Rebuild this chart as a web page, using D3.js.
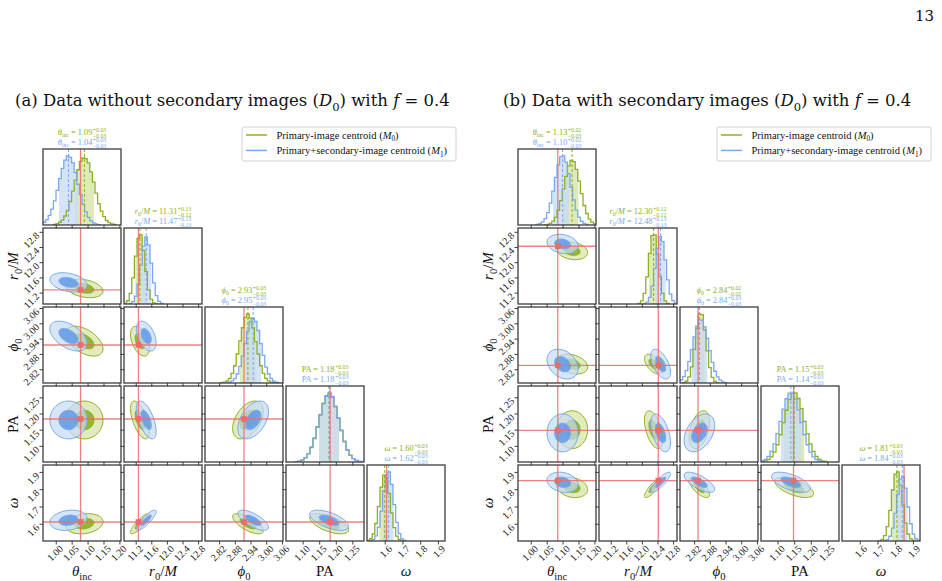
<!DOCTYPE html>
<html>
<head>
<meta charset="utf-8">
<title>Corner plots</title>
<script src="https://cdn.jsdelivr.net/npm/d3@7"></script>
<style>
  body { margin: 0; background: #fff; }
  .frame { fill: none; stroke: #3d3d3d; stroke-width: 1.3; }
</style>
</head>
<body>
<script>

// ---- axes shared by both corner plots ----
var paramDomains = [[0.96, 1.205], [10.9, 12.9], [2.766, 3.064], [1.05, 1.285], [1.5, 1.94]];
var paramTicks = [[1.00, 1.05, 1.10, 1.15, 1.20], [11.2, 11.6, 12.0, 12.4, 12.8],
                  [2.82, 2.88, 2.94, 3.00, 3.06], [1.10, 1.15, 1.20, 1.25], [1.6, 1.7, 1.8, 1.9]];
var tickFormats = [".2f", ".1f", ".2f", ".2f", ".1f"];
var histBins = [30, 30, 30, 26, 30];

// ---- (a) data without secondary images ----
var medLeftM0 = [1.09, 11.31, 2.93, 1.18, 1.60];
var upLeftM0  = [0.03, 0.13, 0.03, 0.03, 0.03];
var loLeftM0  = [0.03, 0.12, 0.03, 0.03, 0.03];
var medLeftM1 = [1.04, 11.47, 2.95, 1.18, 1.62];
var upLeftM1  = [0.03, 0.13, 0.03, 0.03, 0.03];
var loLeftM1  = [0.03, 0.13, 0.03, 0.03, 0.03];
var truthLeft = [1.078, 11.27, 2.915, 1.183, 1.61];
var rhoLeft = [[], [-0.3], [-0.5, -0.45], [0.0, -0.6, 0.45], [0.2, 0.85, -0.7, -0.6]];
var histStartLeftM0 = [4, 0, 6, 3, 0];
var histLeftM0 = [
  [0.01, 0.02, 0.04, 0.07, 0.13, 0.21, 0.34, 0.49, 0.65, 0.80, 0.92, 0.97, 0.96, 0.90, 0.77, 0.62, 0.46, 0.31, 0.20, 0.12, 0.065, 0.033, 0.016, 0.007],
  [0.011, 0.046, 0.15, 0.37, 0.68, 0.93, 0.98, 0.76, 0.46, 0.20, 0.07, 0.017, 0.004],
  [0.004, 0.012, 0.03, 0.068, 0.14, 0.25, 0.42, 0.61, 0.80, 0.95, 1.0, 0.94, 0.80, 0.60, 0.42, 0.25, 0.14, 0.066, 0.03, 0.012, 0.004],
  [0.005, 0.012, 0.028, 0.06, 0.117, 0.21, 0.34, 0.50, 0.68, 0.85, 0.96, 0.99, 0.94, 0.81, 0.64, 0.46, 0.30, 0.18, 0.099, 0.05, 0.023, 0.01, 0.004],
  [0.008, 0.032, 0.10, 0.25, 0.49, 0.77, 0.94, 0.90, 0.68, 0.40, 0.19, 0.07, 0.02, 0.005]
];
var histStartLeftM1 = [0, 2, 8, 3, 1];
var histLeftM1 = [
  [0.04, 0.078, 0.14, 0.23, 0.35, 0.50, 0.67, 0.82, 0.94, 1.0, 0.98, 0.90, 0.76, 0.59, 0.44, 0.30, 0.19, 0.11, 0.06, 0.03, 0.015, 0.006],
  [0.008, 0.033, 0.11, 0.28, 0.55, 0.82, 0.95, 0.84, 0.58, 0.30, 0.12, 0.038, 0.01],
  [0.004, 0.011, 0.03, 0.064, 0.13, 0.24, 0.39, 0.57, 0.75, 0.89, 0.94, 0.89, 0.76, 0.57, 0.40, 0.23, 0.13, 0.065, 0.028, 0.011, 0.004],
  [0.004, 0.011, 0.03, 0.062, 0.12, 0.22, 0.35, 0.51, 0.69, 0.84, 0.95, 1.0, 0.95, 0.80, 0.63, 0.45, 0.29, 0.17, 0.095, 0.048, 0.022, 0.009, 0.004],
  [0.005, 0.021, 0.073, 0.198, 0.424, 0.714, 0.947, 0.987, 0.81, 0.52, 0.265, 0.106, 0.034, 0.008]
];

// ---- (b) data with secondary images ----
var medRightM0 = [1.13, 12.30, 2.84, 1.15, 1.81];
var upRightM0  = [0.02, 0.12, 0.02, 0.03, 0.03];
var loRightM0  = [0.03, 0.12, 0.02, 0.03, 0.03];
var medRightM1 = [1.10, 12.48, 2.84, 1.14, 1.84];
var upRightM1  = [0.02, 0.13, 0.03, 0.03, 0.03];
var loRightM1  = [0.03, 0.13, 0.03, 0.03, 0.03];
var truthRight = [1.085, 12.42, 2.835, 1.148, 1.85];
var rhoRight = [[], [-0.2], [-0.3, -0.55], [0.0, -0.5, 0.4], [-0.2, 0.85, -0.7, -0.6]];
var histStartRightM0 = [10, 15, 1, 0, 14];
var histRightM0 = [
  [0.004, 0.009, 0.023, 0.055, 0.11, 0.21, 0.35, 0.52, 0.70, 0.85, 0.93, 0.91, 0.80, 0.63, 0.45, 0.28, 0.165, 0.085, 0.041, 0.017],
  [0.009, 0.044, 0.15, 0.38, 0.71, 0.96, 0.97, 0.70, 0.38, 0.15, 0.044, 0.009],
  [0.006, 0.025, 0.087, 0.228, 0.475, 0.772, 0.974, 0.964, 0.749, 0.452, 0.216, 0.08, 0.023, 0.005],
  [0.006, 0.016, 0.036, 0.074, 0.141, 0.248, 0.391, 0.564, 0.743, 0.895, 0.986, 0.992, 0.912, 0.766, 0.582, 0.407, 0.26, 0.152, 0.08, 0.039, 0.017, 0.007],
  [0.005, 0.022, 0.076, 0.205, 0.435, 0.726, 0.953, 0.984, 0.80, 0.51, 0.256, 0.10, 0.031, 0.008]
];
var histStartRightM1 = [7, 17, 0, 0, 16];
var histRightM1 = [
  [0.007, 0.018, 0.044, 0.091, 0.177, 0.315, 0.487, 0.685, 0.864, 0.978, 0.993, 0.904, 0.738, 0.54, 0.36, 0.213, 0.113, 0.054, 0.023, 0.009],
  [0.006, 0.027, 0.094, 0.25, 0.50, 0.78, 0.945, 0.875, 0.62, 0.34, 0.14, 0.046, 0.011],
  [0.042, 0.091, 0.175, 0.30, 0.47, 0.65, 0.80, 0.89, 0.885, 0.79, 0.63, 0.455, 0.29, 0.166, 0.085, 0.04, 0.016, 0.006],
  [0.017, 0.039, 0.08, 0.152, 0.26, 0.407, 0.582, 0.76, 0.908, 0.99, 0.987, 0.90, 0.749, 0.564, 0.391, 0.248, 0.141, 0.074, 0.036, 0.016, 0.006],
  [0.005, 0.02, 0.068, 0.184, 0.394, 0.664, 0.88, 0.918, 0.753, 0.484, 0.246, 0.099, 0.032, 0.007]
];

// ---- styling ----
var lineColors  = ["#8cb020", "#78a9ee"];
var lightColors = ["#d4e3a2", "#c6daf6"];
var darkColors  = ["#89ad17", "#5f9ae6"];
var truthColor = "#ec6b6b";

var paramLabels = [
  [["\u03b8", "i"], ["inc", "sub"]],
  [["r", "i"], ["0", "sub"], ["/", ""], ["M", "i"]],
  [["\u03d5", "i"], ["0", "sub"]],
  [["PA", ""]],
  [["\u03c9", "i"]]
];
var seriesLabels = [
  [["Primary-image centroid (", ""], ["M", "i"], ["0", "sub"], [")", ""]],
  [["Primary+secondary-image centroid (", ""], ["M", "i"], ["1", "sub"], [")", ""]]
];

var serif = "'Liberation Serif', 'DejaVu Serif', serif";
var wideSerif = "'DejaVu Serif', 'Liberation Serif', serif";
var colStep = 81, rowStep = 79, panelW = 78, panelH = 76, top0 = 149;
var angles = d3.range(60).map(function(k) { return k / 60 * 2 * Math.PI; });

var svg = d3.select("body").append("svg")
  .attr("width", 942).attr("height", 581)
  .attr("font-family", serif);

// writes text parts with italic and subscript pieces into a text element
function richText(sel, parts, size) {
  var shifted = false;
  parts.forEach(function(pt) {
    var t = sel.append("tspan").text(pt[0]);
    var isSub = pt[1].indexOf("sub") >= 0;
    if (pt[1].indexOf("i") >= 0) t.attr("font-style", "italic");
    if (isSub) {
      t.attr("font-size", size * 0.7);
      if (!shifted) t.attr("dy", size * 0.28);
      shifted = true;
    } else if (shifted) {
      t.attr("dy", -size * 0.28);
      shifted = false;
    }
  });
}

function sigmaOf(p, s, i) { return (p.up[s][i] + p.lo[s][i]) / 2; }

function diagTitle(cx, y, i, med, up, lo, color) {
  var f = d3.format(".2f");
  var tg = svg.append("g").attr("fill", color);
  var t = tg.append("text").attr("x", 0).attr("y", y).attr("font-size", 8.3);
  richText(t, paramLabels[i].concat([[" = " + f(med), ""]]), 8.3);
  var w = t.node().getComputedTextLength() + 0.5;
  var sup = tg.append("text").attr("x", w).attr("y", y - 3.2).attr("font-size", 5.8).text("+" + f(up));
  var sub = tg.append("text").attr("x", w).attr("y", y + 2.5).attr("font-size", 5.8).text("\u2212" + f(lo));
  var total = w + Math.max(sup.node().getComputedTextLength(), sub.node().getComputedTextLength());
  tg.attr("transform", "translate(" + (cx - total / 2) + ",0)");
}

function drawDiag(g, inner, p, i, xs, top, id) {
  var dom = paramDomains[i], w = (dom[1] - dom[0]) / histBins[i];
  var peak = Math.max(d3.max(p.hist[0][i]), d3.max(p.hist[1][i]));
  var ys = d3.scaleLinear().domain([0, 1.1 * peak]).range([top + panelH, top]);
  var pts = [0, 1].map(function(s) {
    var st = p.start[s][i], counts = p.hist[s][i];
    var arr = [[dom[0] + st * w, 0]];
    counts.forEach(function(c, k) { arr.push([dom[0] + (st + k) * w, c]); });
    arr.push([dom[0] + (st + counts.length) * w, 0]);
    return arr;
  });
  var area = d3.area().curve(d3.curveStepAfter)
    .x(function(d) { return xs(d[0]); }).y0(ys(0)).y1(function(d) { return ys(d[1]); });
  var line = d3.line().curve(d3.curveStepAfter)
    .x(function(d) { return xs(d[0]); }).y(function(d) { return ys(d[1]); });

  [0, 1].forEach(function(s) {
    var lo = p.med[s][i] - p.lo[s][i], hi = p.med[s][i] + p.up[s][i];
    var bid = "band-" + id + "-" + s;
    g.append("clipPath").attr("id", bid).append("rect")
      .attr("x", xs(lo)).attr("y", top).attr("width", xs(hi) - xs(lo)).attr("height", panelH);
    inner.append("g").attr("clip-path", "url(#" + bid + ")")
      .append("path").attr("d", area(pts[s]))
      .attr("fill", lightColors[s]).attr("fill-opacity", 0.75);
  });
  [0, 1].forEach(function(s) {
    inner.append("path").attr("d", line(pts[s]))
      .attr("fill", "none").attr("stroke", lineColors[s]).attr("stroke-width", 1.3);
  });
  [0, 1].forEach(function(s) {
    inner.append("line")
      .attr("x1", xs(p.med[s][i])).attr("x2", xs(p.med[s][i]))
      .attr("y1", top).attr("y2", top + panelH)
      .attr("stroke", lineColors[s]).attr("stroke-width", 1).attr("stroke-dasharray", "3,2");
  });
  inner.append("line")
    .attr("x1", xs(p.truth[i])).attr("x2", xs(p.truth[i]))
    .attr("y1", top).attr("y2", top + panelH)
    .attr("stroke", truthColor).attr("stroke-opacity", 0.85).attr("stroke-width", 1.3);
}

function draw2D(inner, p, row, col, xs, ys) {
  var line = d3.line().curve(d3.curveCardinalClosed)
    .x(function(d) { return xs(d[0]); }).y(function(d) { return ys(d[1]); });
  var rho = p.rho[row][col];
  [0, 1].forEach(function(s) {
    var mx = p.med[s][col], my = p.med[s][row];
    var sx = sigmaOf(p, s, col), sy = sigmaOf(p, s, row);
    [[1.95, lightColors[s], 0.7], [1.0, darkColors[s], 0.85]].forEach(function(lv) {
      var ring = angles.map(function(t) {
        return [mx + lv[0] * sx * Math.cos(t),
                my + lv[0] * sy * (rho * Math.cos(t) + Math.sqrt(1 - rho * rho) * Math.sin(t))];
      });
      inner.append("path").attr("d", line(ring))
        .attr("fill", lv[1]).attr("fill-opacity", lv[2])
        .attr("stroke", lineColors[s]).attr("stroke-width", 1);
    });
  });
  var tx = xs(p.truth[col]), ty = ys(p.truth[row]);
  var r = xs.range(), rr = ys.range();
  inner.append("line").attr("x1", tx).attr("x2", tx).attr("y1", rr[1]).attr("y2", rr[0])
    .attr("stroke", truthColor).attr("stroke-opacity", 0.85).attr("stroke-width", 1.3);
  inner.append("line").attr("x1", r[0]).attr("x2", r[1]).attr("y1", ty).attr("y2", ty)
    .attr("stroke", truthColor).attr("stroke-opacity", 0.85).attr("stroke-width", 1.3);
  inner.append("rect").attr("x", tx - 2.8).attr("y", ty - 2.8).attr("width", 5.6).attr("height", 5.6)
    .attr("fill", truthColor);
}

function drawCorner(p) {
  var g = svg.append("g");
  var xs = paramDomains.map(function(dom, i) {
    var left = p.x0 + i * colStep;
    return d3.scaleLinear().domain(dom).range([left, left + panelW]);
  });
  var ys = paramDomains.map(function(dom, i) {
    var top = top0 + i * rowStep;
    return d3.scaleLinear().domain(dom).range([top + panelH, top]);
  });

  for (var row = 0; row < 5; row++) {
    for (var col = 0; col <= row; col++) {
      var left = p.x0 + col * colStep, top = top0 + row * rowStep;
      var id = p.id + "-" + row + "-" + col;
      g.append("clipPath").attr("id", "clip-" + id).append("rect")
        .attr("x", left).attr("y", top).attr("width", panelW).attr("height", panelH);
      var inner = g.append("g").attr("clip-path", "url(#clip-" + id + ")");
      if (row === col) drawDiag(g, inner, p, col, xs[col], top, id);
      else draw2D(inner, p, row, col, xs[col], ys[row]);

      g.append("rect").attr("class", "frame")
        .attr("x", left).attr("y", top).attr("width", panelW).attr("height", panelH);

      var xAxis = d3.axisBottom(xs[col]).tickValues(paramTicks[col])
        .tickSizeInner(3.5).tickSizeOuter(0)
        .tickFormat(row === 4 ? d3.format(tickFormats[col]) : "");
      var xg = g.append("g").attr("transform", "translate(0," + (top + panelH) + ")").call(xAxis);
      xg.attr("font-family", serif).attr("font-size", 10);
      xg.select(".domain").remove();
      xg.selectAll("line").attr("stroke", "#3d3d3d");
      xg.selectAll("text").attr("x", 0).attr("y", 0).attr("dy", "0.35em")
        .attr("text-anchor", "end").attr("fill", "#222")
        .attr("transform", "translate(5,6) rotate(-45)");

      if (row !== col) {
        var yAxis = d3.axisLeft(ys[row]).tickValues(paramTicks[row])
          .tickSizeInner(3.5).tickSizeOuter(0)
          .tickFormat(col === 0 ? d3.format(tickFormats[row]) : "");
        var yg = g.append("g").attr("transform", "translate(" + left + ",0)").call(yAxis);
        yg.attr("font-family", serif).attr("font-size", 10);
        yg.select(".domain").remove();
        yg.selectAll("line").attr("stroke", "#3d3d3d");
        yg.selectAll("text").attr("x", 0).attr("y", 0).attr("dy", "0.35em")
          .attr("text-anchor", "end").attr("fill", "#222")
          .attr("transform", "translate(-5.5,1.5) rotate(-45)");
      }
    }
  }

  // titles above the diagonal
  for (var i = 0; i < 5; i++) {
    var cx = p.x0 + i * colStep + panelW / 2, ty = top0 + i * rowStep;
    diagTitle(cx, ty - 14, i, p.med[0][i], p.up[0][i], p.lo[0][i], lineColors[0]);
    diagTitle(cx, ty - 4, i, p.med[1][i], p.up[1][i], p.lo[1][i], lineColors[1]);
  }

  // axis labels
  for (var c = 0; c < 5; c++) {
    var bt = svg.append("text").attr("x", p.x0 + c * colStep + panelW / 2).attr("y", 576)
      .attr("text-anchor", "middle").attr("font-size", 15).attr("fill", "#111");
    richText(bt, paramLabels[c], 15);
  }
  for (var r = 1; r < 5; r++) {
    var lt = svg.append("text").attr("text-anchor", "middle").attr("font-size", 15).attr("fill", "#111")
      .attr("transform", "translate(" + (p.x0 - 25) + "," + (top0 + r * rowStep + panelH / 2) + ") rotate(-90)");
    richText(lt, paramLabels[r], 15);
  }

  // legend
  var lg = svg.append("g").attr("transform", "translate(" + (p.x0 + 199) + ",127)");
  lg.append("rect").attr("width", 214).attr("height", 34).attr("rx", 2)
    .attr("fill", "#fff").attr("stroke", "#d2d2d2");
  seriesLabels.forEach(function(lab, s) {
    var ly = 8 + s * 15.4;
    lg.append("line").attr("x1", 4).attr("x2", 25).attr("y1", ly).attr("y2", ly)
      .attr("stroke", lineColors[s]).attr("stroke-width", 1.5);
    var t = lg.append("text").attr("x", 34.5).attr("y", ly + 3.5).attr("font-size", 10.5).attr("fill", "#111");
    richText(t, lab, 10.5);
  });

  // panel heading
  var ht = svg.append("text").attr("x", p.titleX).attr("y", 106)
    .attr("font-family", wideSerif).attr("font-size", 16.5).attr("fill", "#111");
  richText(ht, p.heading, 16.5);
}

svg.append("text").attr("x", 934).attr("y", 21).attr("text-anchor", "end")
  .attr("font-family", wideSerif).attr("font-size", 15).attr("fill", "#111").text("13");

drawCorner({
  id: "L", x0: 43, titleX: 15,
  heading: [["(a) Data without secondary images (", ""], ["D", "i"], ["0", "sub"], [") with ", ""], ["f", "i"], [" = 0.4", ""]],
  med: [medLeftM0, medLeftM1], up: [upLeftM0, upLeftM1], lo: [loLeftM0, loLeftM1],
  hist: [histLeftM0, histLeftM1], start: [histStartLeftM0, histStartLeftM1],
  truth: truthLeft, rho: rhoLeft
});
drawCorner({
  id: "R", x0: 518, titleX: 503,
  heading: [["(b) Data with secondary images (", ""], ["D", "i"], ["0", "sub"], [") with ", ""], ["f", "i"], [" = 0.4", ""]],
  med: [medRightM0, medRightM1], up: [upRightM0, upRightM1], lo: [loRightM0, loRightM1],
  hist: [histRightM0, histRightM1], start: [histStartRightM0, histStartRightM1],
  truth: truthRight, rho: rhoRight
});

</script>
</body>
</html>
